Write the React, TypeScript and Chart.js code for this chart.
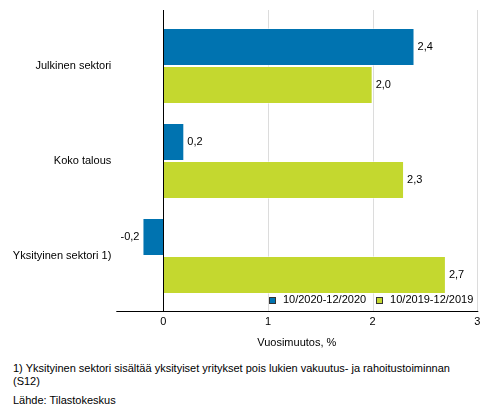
import { useEffect, useRef } from "react";
import { Chart, registerables, Plugin } from "chart.js";

Chart.register(...registerables);

const categories = ["Julkinen sektori", "Koko talous", "Yksityinen sektori 1)"];
const seriesLabels = ["10/2020-12/2020", "10/2019-12/2019"];
const recent = [2.4, 0.2, -0.2];
const previous = [2.0, 2.3, 2.7];
const xTicks = [0, 1, 2, 3];

const BLUE = "#0073b0";
const GREEN = "#c4d82f";
const FONT = "'Liberation Sans', Arial, sans-serif";

const fmt = (v: number) => v.toFixed(1).replace(".", ",");

// grid lines run a bit past the plot area, as in the original
const gridPlugin: Plugin<"bar"> = {
  id: "grid",
  beforeDatasetsDraw(chart) {
    const { ctx, chartArea } = chart;
    const x = chart.scales.x;
    const top = chartArea.top - 8.5;
    const bottom = chartArea.bottom + 7.5;
    ctx.save();
    ctx.lineWidth = 1;
    xTicks.forEach((v) => {
      if (v === 0) return;
      const px = Math.round(x.getPixelForValue(v)) + 0.5;
      ctx.strokeStyle = "#dcdcdc";
      ctx.beginPath();
      ctx.moveTo(px, top);
      ctx.lineTo(px, bottom);
      ctx.stroke();
    });
    ctx.restore();
  },
  afterDatasetsDraw(chart) {
    const { ctx, chartArea } = chart;
    const x = chart.scales.x;
    const top = chartArea.top - 8.5;
    const bottom = Math.round(chartArea.bottom + 7.5) + 0.5;
    ctx.save();
    ctx.strokeStyle = "#000";
    ctx.lineWidth = 1;
    const zx = Math.round(x.getPixelForValue(0)) + 0.5;
    ctx.beginPath();
    ctx.moveTo(zx, top);
    ctx.lineTo(zx, bottom);
    ctx.moveTo(chartArea.left, bottom);
    ctx.lineTo(chartArea.right + 1, bottom);
    ctx.stroke();

    // value labels
    ctx.font = `11px ${FONT}`;
    ctx.fillStyle = "#000";
    ctx.textBaseline = "middle";
    chart.data.datasets.forEach((ds, i) => {
      const meta = chart.getDatasetMeta(i);
      meta.data.forEach((el: any, j) => {
        const v = ds.data[j] as number;
        if (v < 0) {
          ctx.textAlign = "right";
          ctx.fillText(fmt(v), el.x - 3, el.y);
        } else {
          ctx.textAlign = "left";
          ctx.fillText(fmt(v), el.x + 3, el.y);
        }
      });
    });

    // legend, inside the plot at the bottom right
    const ly = chartArea.bottom - 3.5;
    let rx = chartArea.right - 4;
    const items = chart.data.datasets.map((ds) => ({
      label: ds.label as string,
      color: ds.backgroundColor as string,
    }));
    const pos: { sx: number; tx: number }[] = [];
    for (let i = items.length - 1; i >= 0; i--) {
      const w = ctx.measureText(items[i].label).width;
      const tx = rx - w;
      const sx = tx - 14;
      pos[i] = { sx, tx };
      rx = sx - 10;
    }
    items.forEach((it, i) => {
      const { sx, tx } = pos[i];
      ctx.fillStyle = it.color;
      ctx.fillRect(Math.round(sx), Math.round(ly - 3.5), 7, 7);
      ctx.strokeStyle = "#333";
      ctx.strokeRect(Math.round(sx) + 0.5, Math.round(ly - 3.5) + 0.5, 6, 6);
      ctx.fillStyle = "#000";
      ctx.textAlign = "left";
      ctx.fillText(it.label, tx, ly);
    });
    ctx.restore();
  },
};

export default function App() {
  const canvasRef = useRef<HTMLCanvasElement>(null);
  const chartRef = useRef<Chart | null>(null);

  useEffect(() => {
    if (!canvasRef.current) return;
    const ctx = canvasRef.current.getContext("2d");
    if (!ctx) return;

    if (chartRef.current) {
      chartRef.current.destroy();
      chartRef.current = null;
    }

    chartRef.current = new Chart(ctx, {
      type: "bar",
      data: {
        labels: categories,
        datasets: [
          {
            label: seriesLabels[0],
            data: recent,
            backgroundColor: BLUE,
            borderColor: "rgba(255,255,255,0.45)",
            borderWidth: 1,
            categoryPercentage: 0.8,
            barPercentage: 1,
          },
          {
            label: seriesLabels[1],
            data: previous,
            backgroundColor: GREEN,
            borderColor: "rgba(255,255,255,0.45)",
            borderWidth: 1,
            categoryPercentage: 0.8,
            barPercentage: 1,
          },
        ],
      },
      options: {
        indexAxis: "y",
        responsive: true,
        maintainAspectRatio: false,
        animation: false,
        layout: { padding: { top: 18.5, right: 15.7, left: 0, bottom: 0 } },
        scales: {
          x: {
            type: "linear",
            min: -0.45,
            max: 3,
            afterBuildTicks: (s) => {
              s.ticks = xTicks.map((v) => ({ value: v }));
            },
            afterFit: (s) => {
              s.height = 56.5;
            },
            grid: { display: false, drawTicks: false },
            border: { display: false },
            ticks: {
              color: "#000",
              padding: 12,
              font: { family: FONT, size: 11 },
              callback: (v) => String(v),
            },
            title: {
              display: true,
              text: "Vuosimuutos, %",
              color: "#000",
              font: { family: FONT, size: 11 },
              padding: { top: 0, bottom: 10.4 },
            },
          },
          y: {
            afterFit: (s) => {
              s.width = 116.3;
            },
            grid: { display: false, drawTicks: false },
            border: { display: false },
            ticks: {
              color: "#000",
              padding: 5,
              font: { family: FONT, size: 11 },
            },
          },
        },
        plugins: {
          legend: { display: false },
          tooltip: { enabled: false },
        },
      },
      plugins: [gridPlugin],
    });

    return () => {
      if (chartRef.current) {
        chartRef.current.destroy();
        chartRef.current = null;
      }
    };
  }, []);

  const note: React.CSSProperties = {
    position: "absolute",
    left: 13,
    fontSize: 11,
    lineHeight: "13.4px",
    color: "#000",
    fontFamily: FONT,
  };

  return (
    <div style={{ position: "absolute", left: 0, top: 0, width: 493, height: 416, background: "#fff" }}>
      <div style={{ position: "absolute", left: 0, top: 0, width: 493, height: 360 }}>
        <canvas ref={canvasRef} />
      </div>
      <div style={{ ...note, top: 361.6, width: 445 }}>
        1) Yksityinen sektori sisältää yksityiset yritykset pois lukien vakuutus- ja rahoitustoiminnan (S12)
      </div>
      <div style={{ ...note, top: 394 }}>Lähde: Tilastokeskus</div>
    </div>
  );
}
